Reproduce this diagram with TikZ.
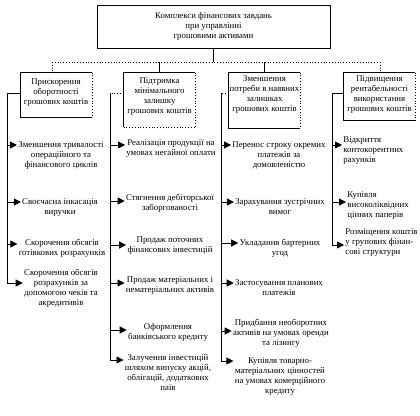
\documentclass[tikz,border=0pt]{standalone}
\usepackage{fontspec}
\setmainfont{Liberation Serif}
\usetikzlibrary{arrows.meta}

% top-aligned text inside a fixed-size header box
\newcommand{\boxtext}[3]{\parbox[c][#1][t]{71pt}{\centering\vspace{#2}\strut#3}}

\begin{document}
\begin{tikzpicture}[
    x=1pt, y=-1pt,
    line width=0.8pt,
    every node/.style={font=\fontsize{8.8}{10}\selectfont},
    title/.style={draw, align=center, minimum width=233pt, minimum height=43pt},
    head/.style={inner sep=0pt},
    task/.style={align=center, inner sep=1pt, anchor=north},
    lefttask/.style={align=left, inner sep=1pt, anchor=north west},
    flow/.style={-{Triangle[length=7pt, width=7pt]}},
  ]
  \useasboundingbox (0,0) rectangle (420,415);

  % ---- top box ----
  \node[title] (complex) at (213.5,26.5)
    {Комплекси фінансових завдань\\при управлінні\\грошовими активами};
  \draw[line width=1.5pt] (complex.north east) -- (complex.south east) -- (complex.south west);

  % ---- four directions ----
  \node[head] (accel) at (56,95) {\boxtext{44pt}{4pt}{Прискорення\\оборотності\\грошових коштів}};
  \node[head] (minimum) at (159.5,100) {\boxtext{54pt}{3.5pt}{Підтримка\\мінімального\\залишку\\грошових коштів}};
  \node[head] (reduce) at (264.5,100.5) {\boxtext{55pt}{1pt}{Зменшення\\потреби в наявних\\залишках\\грошових коштів}};
  \node[head] (profit) at (379.5,96.5) {\boxtext{47pt}{1.5pt}{Підвищення\\рентабельності\\використання\\грошових коштів}};

  \foreach \b in {accel,reduce,profit}
    \draw (\b.north east) -- (\b.north west) -- (\b.south west) -- (\b.south east);
  \draw (minimum.north east) -- (minimum.north west) -- (minimum.south west);
  \draw[dotted] (minimum.south west) -- (minimum.south east);
  \foreach \b in {accel,minimum,reduce,profit}
    \draw[dotted] (\b.north east) -- (\b.south east);

  % bus from the top box
  \coordinate (busl) at (52,62);
  \coordinate (busr) at (380,62);
  \draw (complex.south) -- (complex.south |- busl);
  \draw[dotted] (busl) -- (busr);
  \draw[dotted] (busl) -- (busl |- accel.north);
  \draw (minimum.north |- busl) -- (minimum.north);
  \draw (reduce.north |- busl) -- (reduce.north);
  \draw[dotted] (busr) -- (busr |- profit.north);

  % ---- column 1 ----
  \node[task] (a1) at (61,140) {Зменшення тривалості\\операційного та\\фінансового циклів};
  \node[task] (a2) at (60,197) {Своєчасна інкасація\\виручки};
  \node[task] (a3) at (62,238) {Скорочення обсягів\\готівкових розрахунків};
  \node[task] (a4) at (61,268) {Скорочення обсягів\\розрахунків за\\допомогою чеків та\\акредитивів};

  % ---- column 2 ----
  \node[task] (m1) at (171,138) {Реалізація продукції на\\умовах негайної оплати};
  \node[task] (m2) at (170,193) {Стягнення дебіторської\\заборгованості};
  \node[task] (m3) at (170,235) {Продаж поточних\\фінансових інвестицій};
  \node[task] (m4) at (170,275) {Продаж матеріальних і\\нематеріальних активів};
  \node[task] (m5) at (168,322) {Оформлення\\банківського кредиту};
  \node[task] (m6) at (168,353) {Залучення інвестицій\\шляхом випуску акцій,\\облігацій, додаткових\\паїв};

  % ---- column 3 ----
  \node[task] (r1) at (279,140) {Перенос строку окремих\\платежів за\\домовленістю};
  \node[task] (r2) at (280,197) {Зарахування зустрічних\\вимог};
  \node[task] (r3) at (280,238) {Укладання бартерних\\угод};
  \node[task] (r4) at (279,278) {Застосування планових\\платежів};
  \node[task] (r5) at (281,318) {Придбання необоротних\\активів на умовах оренди\\та лізингу};
  \node[task] (r6) at (280,356) {Купівля товарно-\\матеріальних цінностей\\на умовах комерційного\\кредиту};

  % ---- column 4 ----
  \node[lefttask] (p1) at (342,135) {Відкриття\\контокорентних\\рахунків};
  \node[lefttask] (p2) at (346,190) {Купівля\\високоліквідних\\цінних паперів};
  \node[lefttask] (p3) at (344,227) {Розміщення коштів\\у групових фінан-\\сові структури};

  % spine points
  \coordinate (ta) at (7,93);
  \coordinate (ka1) at (7,145);   \coordinate (ka2) at (7,202);
  \coordinate (ka3) at (7,244);   \coordinate (ka4) at (7,283);
  \coordinate (tm) at (110,93);
  \coordinate (km1) at (110,145); \coordinate (km2) at (110,201);
  \coordinate (km3) at (110,245); \coordinate (km4) at (110,283);
  \coordinate (km5) at (110,330); \coordinate (km6) at (110,360);
  \coordinate (tr) at (221,93);
  \coordinate (kr1) at (221,145); \coordinate (kr2) at (221,202);
  \coordinate (kr3) at (221,243); \coordinate (kr4) at (221,283);
  \coordinate (kr5) at (221,331); \coordinate (kr6) at (221,361);
  \coordinate (tp) at (332,93);
  \coordinate (kp1) at (332,145); \coordinate (kp2) at (332,202);
  \coordinate (kp3) at (332,245);

  % spines
  \draw (ta -| accel.west) -- (ta) -- (ka4);
  \draw[dotted] (tm -| minimum.west) -- (tm);
  \draw (tm) -- (km6);
  \draw[dotted] (tr -| reduce.west) -- (tr);
  \draw (tr) -- (kr6);
  \draw (tp -| profit.west) -- (tp) -- (kp3);

  % arrows to the tasks
  \foreach \k in {a1,a2,a3,a4,m1,m2,m3,m4,m5,m6,r1,r2,r3,r4,r5,r6,p1,p2,p3}
    \draw[flow] (k\k) -- (k\k -| \k.west);

\end{tikzpicture}
\end{document}
